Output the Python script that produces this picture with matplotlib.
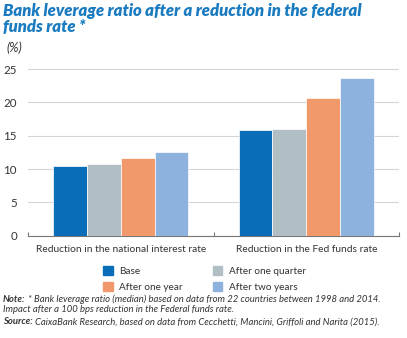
import matplotlib
matplotlib.use("Agg")
import matplotlib.pyplot as plt
import numpy as np
from matplotlib.patches import Patch

# valeurs du graphique
groups = ["Reduction in the national interest rate", "Reduction in the Fed funds rate"]
series = ["Base", "After one quarter", "After one year", "After two years"]
base = [10.5, 15.8]
quarter = [10.7, 16.0]
one_year = [11.6, 20.7]
two_years = [12.5, 23.6]
yticks = [0, 5, 10, 15, 20, 25]

colors = ["#0a6db7", "#b1bec3", "#f2996b", "#8db2dd"]
blue_title = "#1a7bc0"
txt = "#333333"

plt.rcParams['font.family'] = ['Lato', 'DejaVu Sans']

W, H = 407, 338
fig = plt.figure(figsize=(W / 100, H / 100), dpi=100)
ax = fig.add_axes([28 / W, 1 - 235.7 / H, (399 - 28) / W, (235.7 - 67) / H])

x = np.arange(len(groups))
bw = 0.182
vals = [base, quarter, one_year, two_years]
for i, (v, c) in enumerate(zip(vals, colors)):
    ax.bar(x + (i - 1.5) * bw, v, bw, color=c, edgecolor="white", linewidth=0.5,
           zorder=3, label=series[i])

ax.set_xlim(-0.5, 1.5)
ax.set_ylim(0, 25.3)
ax.set_yticks(yticks)
ax.set_yticklabels([str(t) for t in yticks], color=txt, fontsize=8.3)
ax.tick_params(axis="y", length=0, pad=8)
ax.set_xticks(x)
ax.set_xticklabels(groups, color=txt, fontsize=7.4)
ax.tick_params(axis="x", which="major", length=0, pad=7)
ax.set_xticks([-0.5, 0.5, 1.5], minor=True)
ax.tick_params(axis="x", which="minor", direction="in", length=3, color="#777777", width=0.8)
ax.grid(axis="y", color="#d5d5d5", linewidth=0.8, zorder=0)
for s in ["top", "left", "right"]:
    ax.spines[s].set_visible(False)
ax.spines["bottom"].set_color("#777777")
ax.spines["bottom"].set_linewidth(0.8)

# titre
fig.text(3 / W, 1 - 3 / H, "Bank leverage ratio after a reduction in the federal\nfunds rate *",
         color=blue_title, fontsize=12, fontweight="heavy", fontstyle="italic",
         va="top", ha="left", linespacing=1.0)
fig.text(6 / W, 1 - 48 / H, "(%)", color=txt, fontsize=9, fontstyle="italic", va="center")

# légende
handles = [Patch(color=colors[0], label=series[0]), Patch(color=colors[2], label=series[2]),
           Patch(color=colors[1], label=series[1]), Patch(color=colors[3], label=series[3])]
fig.legend(handles=handles, loc="center left", bbox_to_anchor=(94 / W, 1 - 279 / H), ncol=2,
           frameon=False, fontsize=7.2, handlelength=0.95, handleheight=0.95,
           columnspacing=3.0, handletextpad=0.65, labelspacing=0.65, labelcolor=txt)

# notes
fig.canvas.draw()
r = fig.canvas.get_renderer()

def mixed(y, bold, rest):
    t = fig.text(3 / W, 1 - y / H, bold, fontsize=6.8, fontweight="bold", fontstyle="italic",
                 color=txt, va="center")
    if rest:
        bb = t.get_window_extent(r)
        fig.text(bb.x1 / W + 2 / W, 1 - y / H, rest, fontsize=6.8, fontstyle="italic",
                 color=txt, va="center")

mixed(299, "Note:", "* Bank leverage ratio (median) based on data from 22 countries between 1998 and 2014.")
fig.text(3 / W, 1 - 310 / H, "Impact after a 100 bps reduction in the Federal funds rate.",
         fontsize=6.8, fontstyle="italic", color=txt, va="center")
mixed(322, "Source:", "CaixaBank Research, based on data from Cecchetti, Mancini, Griffoli and Narita (2015).")

plt.savefig("out.png", dpi=100)
